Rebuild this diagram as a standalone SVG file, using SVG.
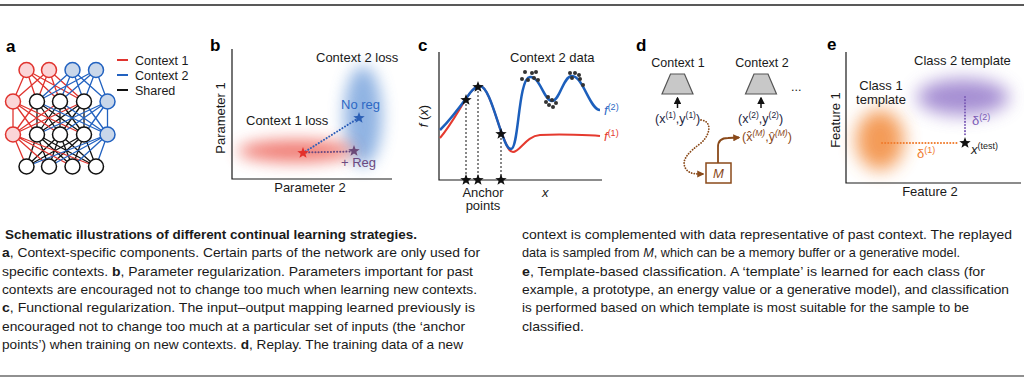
<svg xmlns="http://www.w3.org/2000/svg" xmlns:xlink="http://www.w3.org/1999/xlink" width="1024" height="380" viewBox="0 0 1024 380">
<style>
text{font-family:"Liberation Sans",Arial,sans-serif;fill:#1a1a1a}
.t{font-size:13px}
.ts{font-size:12.5px}
.pl{font-size:17px;font-weight:bold;fill:#000}
.cap{font-size:13px;fill:#1a1a1a}
.b{font-weight:bold}
.ax{stroke:#1a1a1a;stroke-width:1.2;fill:none}
.dot{stroke-dasharray:0.1 3;stroke-linecap:round;stroke-width:2;fill:none}
.nr{fill:#fbd5d7;stroke:#e0342f;stroke-width:1.5}
.nb{fill:#c9d7ea;stroke:#2262c0;stroke-width:1.5}
.nk{fill:#fff;stroke:#111;stroke-width:1.5}
.er{stroke:#e0342f;stroke-width:1.3;fill:none}
.eb{stroke:#2262c0;stroke-width:1.3;fill:none}
.ek{stroke:#111;stroke-width:1.3;fill:none}
</style>
<defs>
<polygon id="star" points="0,-6 1.47,-2.02 5.71,-1.85 2.38,0.77 3.53,4.85 0,2.5 -3.53,4.85 -2.38,0.77 -5.71,-1.85 -1.47,-2.02"/>
<filter id="blur" x="-100%" y="-100%" width="300%" height="300%"><feGaussianBlur stdDeviation="8"/></filter>
<filter id="blur2" x="-100%" y="-100%" width="300%" height="300%"><feGaussianBlur stdDeviation="9"/></filter>
<marker id="ahk" viewBox="0 0 10 10" refX="8" refY="5" markerWidth="5" markerHeight="5" orient="auto"><path d="M0,0 L10,5 L0,10 z" fill="#111"/></marker>
<marker id="ahb" viewBox="0 0 10 10" refX="8" refY="5" markerWidth="4" markerHeight="4" orient="auto"><path d="M0,0 L10,5 L0,10 z" fill="#8a4a1a"/></marker>
</defs>
<rect width="1024" height="380" fill="#fff"/>
<line x1="0" y1="5" x2="1024" y2="5" stroke="#222" stroke-width="1.5"/>
<line x1="0" y1="376" x2="1024" y2="376" stroke="#222" stroke-width="1.2"/>

<!-- Panel a -->
<g id="panel-a">
<text class="pl" x="6" y="52">a</text>
<g id="a-connectors">
<path class="ek" d="M37,101.5L37,134.5 M37,101.5L60,134.5 M37,101.5L84,134.5 M60,101.5L37,134.5 M60,101.5L60,134.5 M60,101.5L84,134.5 M84,101.5L37,134.5 M84,101.5L60,134.5 M84,101.5L84,134.5 M37,134.5L26.5,166.5 M37,134.5L49,166.5 M37,134.5L72.5,166.5 M37,134.5L96,166.5 M60,134.5L26.5,166.5 M60,134.5L49,166.5 M60,134.5L72.5,166.5 M60,134.5L96,166.5 M84,134.5L26.5,166.5 M84,134.5L49,166.5 M84,134.5L72.5,166.5 M84,134.5L96,166.5"/>
<path class="er" d="M26.5,70L13,101.5 M26.5,70L37,101.5 M26.5,70L60,101.5 M26.5,70L84,101.5 M49,70L13,101.5 M49,70L37,101.5 M49,70L60,101.5 M49,70L84,101.5 M13,101.5L13,134.5 M13,101.5L37,134.5 M13,101.5L60,134.5 M13,101.5L84,134.5 M37,101.5L13,134.5 M60,101.5L13,134.5 M84,101.5L13,134.5 M13,134.5L26.5,166.5 M13,134.5L49,166.5 M13,134.5L72.5,166.5 M13,134.5L96,166.5"/>
<path class="eb" d="M72.5,70L37,101.5 M72.5,70L60,101.5 M72.5,70L84,101.5 M72.5,70L107.5,101.5 M96,70L37,101.5 M96,70L60,101.5 M96,70L84,101.5 M96,70L107.5,101.5 M107.5,101.5L107.5,134.5 M107.5,101.5L37,134.5 M107.5,101.5L60,134.5 M107.5,101.5L84,134.5 M37,101.5L107.5,134.5 M60,101.5L107.5,134.5 M84,101.5L107.5,134.5 M107.5,134.5L26.5,166.5 M107.5,134.5L49,166.5 M107.5,134.5L72.5,166.5 M107.5,134.5L96,166.5"/>
</g>
<g id="a-nodes">
<circle class="nr" cx="26.5" cy="70" r="7.5"/><circle class="nr" cx="49" cy="70" r="7.5"/><circle class="nb" cx="72.5" cy="70" r="7.5"/><circle class="nb" cx="96" cy="70" r="7.5"/>
<circle class="nr" cx="13" cy="101.5" r="7.5"/><circle class="nk" cx="37" cy="101.5" r="7.5"/><circle class="nk" cx="60" cy="101.5" r="7.5"/><circle class="nk" cx="84" cy="101.5" r="7.5"/><circle class="nb" cx="107.5" cy="101.5" r="7.5"/>
<circle class="nr" cx="13" cy="134.5" r="7.5"/><circle class="nk" cx="37" cy="134.5" r="7.5"/><circle class="nk" cx="60" cy="134.5" r="7.5"/><circle class="nk" cx="84" cy="134.5" r="7.5"/><circle class="nb" cx="107.5" cy="134.5" r="7.5"/>
<circle class="nk" cx="26.5" cy="166.5" r="7.5"/><circle class="nk" cx="49" cy="166.5" r="7.5"/><circle class="nk" cx="72.5" cy="166.5" r="7.5"/><circle class="nk" cx="96" cy="166.5" r="7.5"/>
</g>
<g id="a-legend">
<line x1="117" y1="60" x2="128" y2="60" stroke="#e0342f" stroke-width="2"/>
<line x1="117" y1="75" x2="128" y2="75" stroke="#2262c0" stroke-width="2"/>
<line x1="117" y1="90" x2="128" y2="90" stroke="#111" stroke-width="2"/>
<text class="ts" x="135" y="64.5">Context 1</text>
<text class="ts" x="135" y="79.5">Context 2</text>
<text class="ts" x="135" y="94.5">Shared</text>
</g>
</g>

<!-- Panel b -->
<g id="panel-b">
<text class="pl" x="210" y="51">b</text>
<ellipse cx="363" cy="116" rx="19" ry="50" fill="#6a9ad9" opacity="0.75" filter="url(#blur)"/>
<ellipse cx="296" cy="151" rx="58" ry="11" fill="#ec5a50" opacity="0.8" filter="url(#blur)"/>
<path class="ax" d="M232,49 L232,179 L392,179"/>
<text class="t" x="310" y="192" text-anchor="middle">Parameter 2</text>
<text class="t" transform="translate(225,118) rotate(-90)" text-anchor="middle">Parameter 1</text>
<text class="t" x="316" y="62">Context 2 loss</text>
<text class="t" x="246" y="125">Context 1 loss</text>
<text class="t" x="341" y="109" style="fill:#2d68c4">No reg</text>
<text class="t" x="341" y="167" style="fill:#6b4a80">+ Reg</text>
<g id="b-connectors">
<line class="dot" x1="303" y1="153" x2="357" y2="119" stroke="#2d5fb8"/>
<line class="dot" x1="303" y1="152.5" x2="352" y2="151.5" stroke="#6b4a80"/>
</g>
<use href="#star" x="303" y="153" fill="#e3302b"/>
<use href="#star" x="359" y="118" fill="#2b5fb5"/>
<use href="#star" x="354" y="151" fill="#6b4a78"/>
</g>

<!-- Panel c -->
<g id="panel-c">
<text class="pl" x="418" y="51">c</text>
<path class="ax" d="M439,52 L439,180 L602,180"/>
<text class="t" transform="translate(428,116) rotate(-90)" text-anchor="middle"><tspan font-style="italic">f</tspan> (<tspan font-style="italic">x</tspan>)</text>
<g id="c-connectors" stroke="#111" stroke-width="1" stroke-dasharray="2,2">
<line x1="466" y1="100" x2="466" y2="180"/>
<line x1="478" y1="87" x2="478" y2="180"/>
<line x1="501" y1="134" x2="501" y2="180"/>
</g>
<path d="M440,138 C452,124 462,104 470,93 C474,88 477,86 480,86 C488,86 496,118 502,134 C506,143 508,152 513,152 C520,152 526,136 540,135 C560,134 590,135 600,136" fill="none" stroke="#e53a2f" stroke-width="2"/>
<path d="M440,130 C452,118 462,104 470,93 C474,88 477,86 480,86 C488,86 496,118 502,134 C505,142 507,149 511,149 C519,149 518,78 530,77 C540,76 544,101 552,101 C560,101 563,76 572,76 C583,76 590,110 600,110" fill="none" stroke="#1c5fbc" stroke-width="2.5"/>
<g id="c-data" fill="#333">
<circle cx="525" cy="72" r="2"/><circle cx="532" cy="73" r="2"/><circle cx="536" cy="72" r="2"/><circle cx="528" cy="80" r="2"/><circle cx="534" cy="78" r="2"/><circle cx="538" cy="80" r="2"/><circle cx="522" cy="79" r="2"/>
<circle cx="548" cy="97" r="2"/><circle cx="546" cy="102" r="2"/><circle cx="552" cy="100" r="2"/><circle cx="556" cy="103" r="2"/><circle cx="553" cy="107" r="2"/><circle cx="549" cy="105" r="2"/>
<circle cx="570" cy="73" r="2"/><circle cx="575" cy="73" r="2"/><circle cx="579" cy="75" r="2"/><circle cx="572" cy="78" r="2"/><circle cx="580" cy="79" r="2"/><circle cx="583" cy="85" r="2"/>
</g>
<use href="#star" x="466" y="100" fill="#111"/>
<use href="#star" x="478" y="87" fill="#111"/>
<use href="#star" x="501" y="134" fill="#111"/>
<use href="#star" x="466" y="180" fill="#111"/>
<use href="#star" x="478" y="180" fill="#111"/>
<use href="#star" x="501" y="180" fill="#111"/>
<text class="t" x="510" y="62">Context 2 data</text>
<text class="t" x="604" y="115" style="fill:#2d68c4"><tspan font-style="italic">f</tspan><tspan font-size="9" dy="-5" style="fill:#2d68c4">(2)</tspan></text>
<text class="t" x="604" y="141" style="fill:#e53a2f"><tspan font-style="italic">f</tspan><tspan font-size="9" dy="-5" style="fill:#e53a2f">(1)</tspan></text>
<text class="t" x="483" y="197" text-anchor="middle">Anchor</text>
<text class="t" x="483" y="210" text-anchor="middle">points</text>
<text class="t" x="542" y="197" font-style="italic">x</text>
</g>

<!-- Panel d -->
<g id="panel-d">
<text class="pl" x="636" y="51">d</text>
<g id="d-context1">
<text class="ts" x="678" y="67" text-anchor="middle">Context 1</text>
<polygon points="670.5,74 684.5,74 693,94 662,94" fill="#c8c8c8" stroke="#555" stroke-width="1.2"/>
</g>
<g id="d-context2">
<text class="ts" x="762" y="67" text-anchor="middle">Context 2</text>
<polygon points="754,74 768,74 776.5,94 745.5,94" fill="#c8c8c8" stroke="#555" stroke-width="1.2"/>
</g>
<text class="ts" x="791" y="91">...</text>
<g id="d-data">
<text class="ts" x="655" y="123" style="fill:#1d2540">(x<tspan font-size="8.5" dy="-5">(1)</tspan><tspan dy="5">,y</tspan><tspan font-size="8.5" dy="-5">(1)</tspan><tspan dy="5">)</tspan></text>
<text class="ts" x="738" y="123" style="fill:#1d2540">(x<tspan font-size="8.5" dy="-5">(2)</tspan><tspan dy="5">,y</tspan><tspan font-size="8.5" dy="-5">(2)</tspan><tspan dy="5">)</tspan></text>
<text class="ts" x="742" y="141" style="fill:#8a4a1a">(x̂<tspan font-size="8.5" dy="-5" font-style="italic" style="fill:#8a4a1a">(M)</tspan><tspan dy="5" style="fill:#8a4a1a">,ŷ</tspan><tspan font-size="8.5" dy="-5" font-style="italic" style="fill:#8a4a1a">(M)</tspan><tspan dy="5" style="fill:#8a4a1a">)</tspan></text>
</g>
<g id="d-memory">
<rect x="706" y="163" width="25" height="20" fill="#fff" stroke="#8a4a1a" stroke-width="1.5"/>
<text x="718.5" y="178" text-anchor="middle" font-size="13" font-style="italic" style="fill:#8a4a1a">M</text>
</g>
<g id="d-connectors">
<line x1="677.5" y1="108" x2="677.5" y2="98" stroke="#111" stroke-width="1.5" marker-end="url(#ahk)"/>
<line x1="761" y1="108" x2="761" y2="98" stroke="#111" stroke-width="1.5" marker-end="url(#ahk)"/>
<path d="M701,120 C712,121 711,134 701,143 C689,152 680,160 686,169 C689,174 696,174 703,174" fill="none" stroke="#8a4a1a" stroke-width="1.8" stroke-dasharray="0.1 2.6" stroke-linecap="round" marker-end="url(#ahb)"/>
<path d="M718,163 L718,147 C718,140 722,138 728,138 L739,137.5" fill="none" stroke="#8a4a1a" stroke-width="1.8" marker-end="url(#ahb)"/>
</g>
</g>

<!-- Panel e -->
<g id="panel-e">
<text class="pl" x="827" y="50">e</text>
<ellipse cx="880" cy="140" rx="24" ry="30" fill="#f28a3a" opacity="0.85" filter="url(#blur2)"/>
<ellipse cx="963" cy="97" rx="46" ry="18" fill="#8f72c8" opacity="0.8" filter="url(#blur2)"/>
<path class="ax" d="M846,52 L846,183 L1021,183"/>
<text class="t" x="930" y="196" text-anchor="middle">Feature 2</text>
<text class="t" transform="translate(840,120) rotate(-90)" text-anchor="middle">Feature 1</text>
<text class="t" x="914" y="65">Class 2 template</text>
<text class="t" x="881" y="90" text-anchor="middle">Class 1</text>
<text class="t" x="881" y="104" text-anchor="middle">template</text>
<g id="e-connectors">
<line class="dot" x1="882" y1="143" x2="959" y2="143" stroke="#f07b2c"/>
<line class="dot" x1="965" y1="97" x2="965" y2="137" stroke="#7a5ab5"/>
</g>
<use href="#star" x="965" y="143" fill="#111"/>
<text class="t" x="917" y="158" style="fill:#f07b2c">δ<tspan font-size="9" dy="-5" style="fill:#f07b2c">(1)</tspan></text>
<text class="t" x="972" y="125" style="fill:#7a5ab5">δ<tspan font-size="9" dy="-5" style="fill:#7a5ab5">(2)</tspan></text>
<text class="t" x="971" y="154"><tspan font-style="italic">x</tspan><tspan font-size="9" dy="-5">(test)</tspan></text>
</g>

<!-- Caption -->
<g id="caption">
<text class="cap b" x="5" y="239" textLength="412" lengthAdjust="spacingAndGlyphs">Schematic illustrations of different continual learning strategies.</text>
<text class="cap" x="2" y="257.3" textLength="478" lengthAdjust="spacingAndGlyphs"><tspan class="b">a</tspan>, Context-specific components. Certain parts of the network are only used for</text>
<text class="cap" x="2" y="275.6" textLength="471" lengthAdjust="spacingAndGlyphs">specific contexts. <tspan class="b">b</tspan>, Parameter regularization. Parameters important for past</text>
<text class="cap" x="2" y="293.9" textLength="475" lengthAdjust="spacingAndGlyphs">contexts are encouraged not to change too much when learning new contexts.</text>
<text class="cap" x="2" y="312.2" textLength="473" lengthAdjust="spacingAndGlyphs"><tspan class="b">c</tspan>, Functional regularization. The input–output mapping learned previously is</text>
<text class="cap" x="2" y="330.5" textLength="463" lengthAdjust="spacingAndGlyphs">encouraged not to change too much at a particular set of inputs (the ‘anchor</text>
<text class="cap" x="2" y="348.8" textLength="461" lengthAdjust="spacingAndGlyphs">points’) when training on new contexts. <tspan class="b">d</tspan>, Replay. The training data of a new</text>
<text class="cap" x="522" y="239" textLength="490" lengthAdjust="spacingAndGlyphs">context is complemented with data representative of past context. The replayed</text>
<text class="cap" x="522" y="257.3" textLength="438" lengthAdjust="spacingAndGlyphs">data is sampled from <tspan font-style="italic">M</tspan>, which can be a memory buffer or a generative model.</text>
<text class="cap" x="522" y="275.6" textLength="463" lengthAdjust="spacingAndGlyphs"><tspan class="b">e</tspan>, Template-based classification. A ‘template’ is learned for each class (for</text>
<text class="cap" x="522" y="293.9" textLength="487" lengthAdjust="spacingAndGlyphs">example, a prototype, an energy value or a generative model), and classification</text>
<text class="cap" x="522" y="312.2" textLength="447" lengthAdjust="spacingAndGlyphs">is performed based on which template is most suitable for the sample to be</text>
<text class="cap" x="522" y="330.5" textLength="62" lengthAdjust="spacingAndGlyphs">classified.</text>
</g>
</svg>
